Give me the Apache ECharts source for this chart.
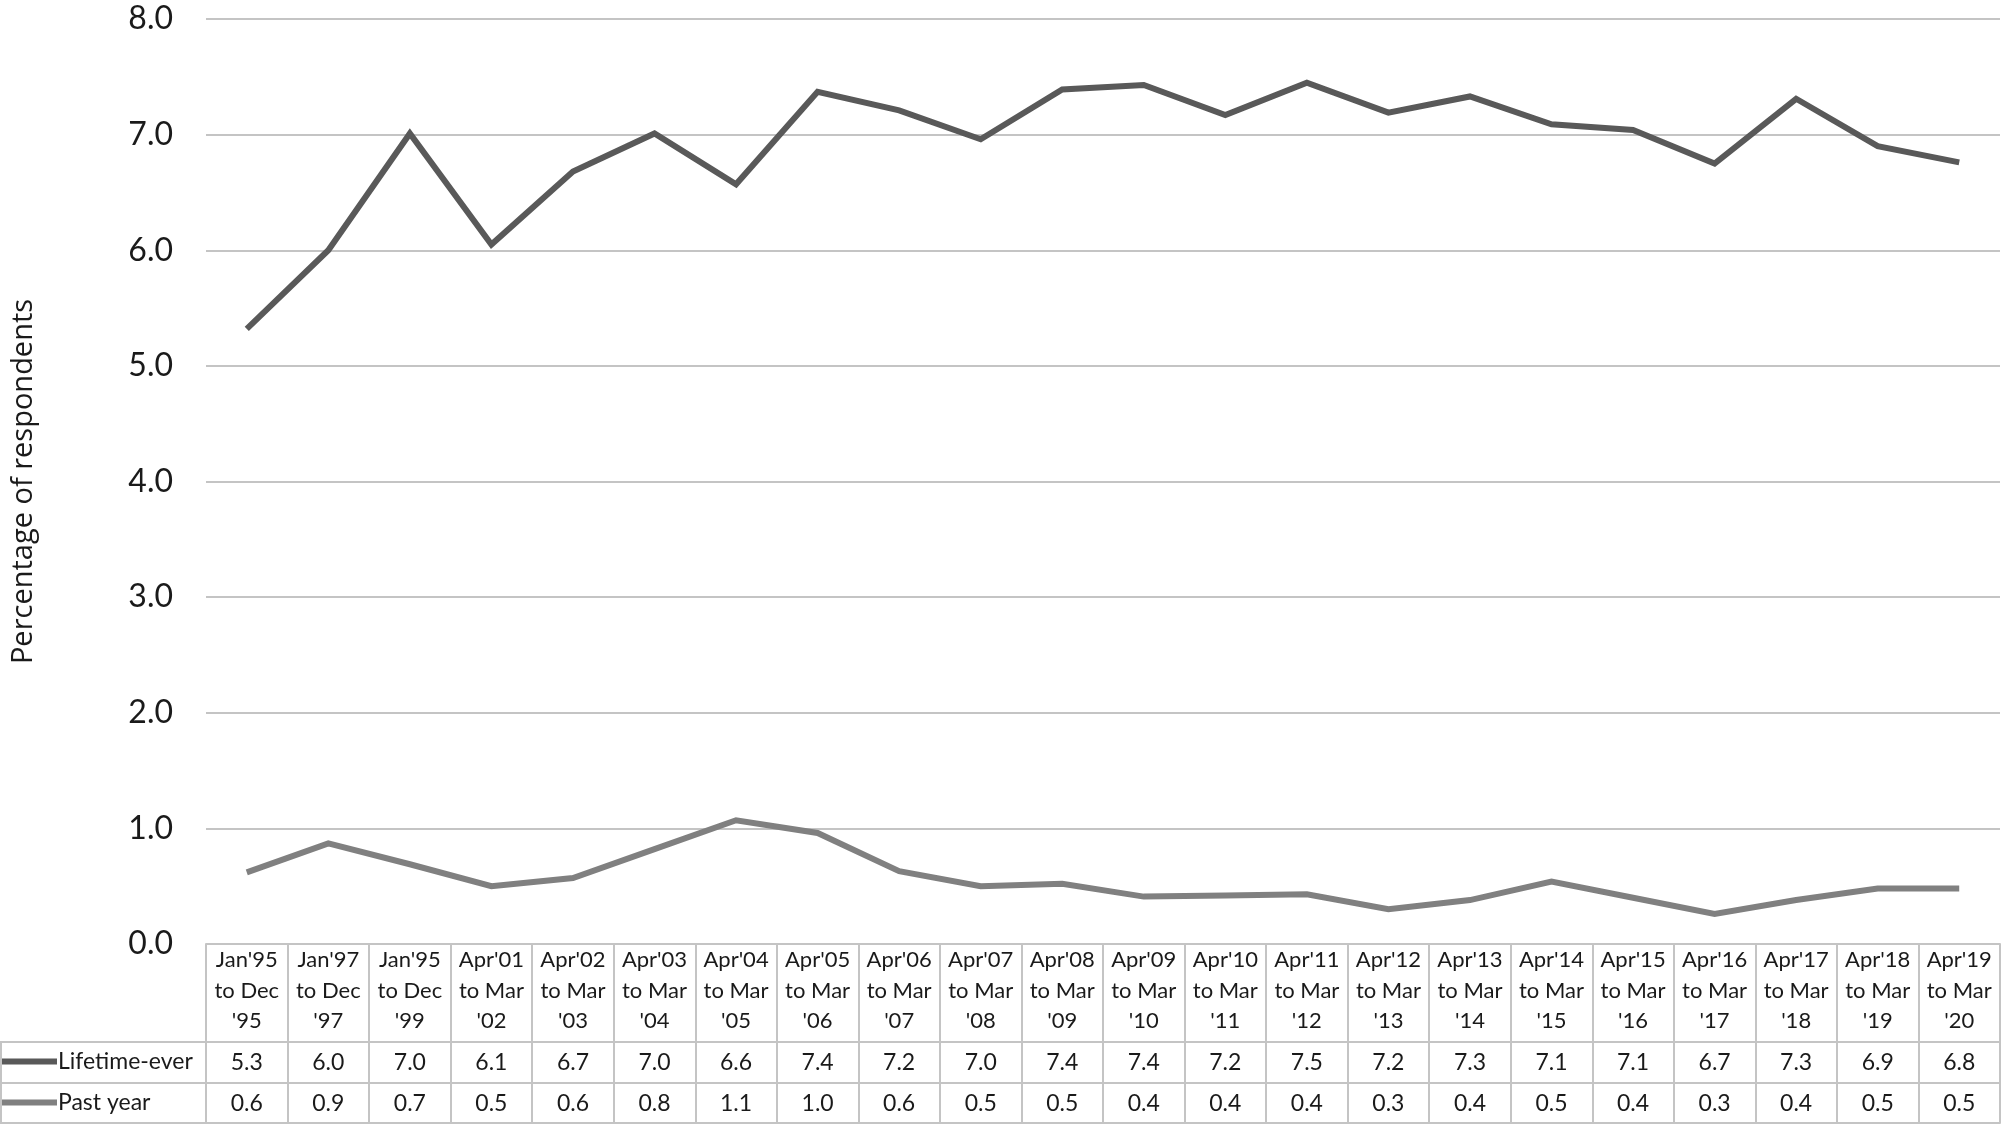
<!DOCTYPE html>
<html>
<head>
<meta charset="utf-8">
<script src="https://cdn.jsdelivr.net/npm/echarts@6/dist/echarts.min.js"></script>
<style>
  html, body { margin: 0; padding: 0; background: #ffffff; }
  #chart { width: 2002px; height: 1125px; }
</style>
</head>
<body>
<div id="chart"></div>
<script>
// ---- Data ----
const categories = [
  "Jan'95\nto Dec\n'95", "Jan'97\nto Dec\n'97", "Jan'95\nto Dec\n'99",
  "Apr'01\nto Mar\n'02", "Apr'02\nto Mar\n'03", "Apr'03\nto Mar\n'04",
  "Apr'04\nto Mar\n'05", "Apr'05\nto Mar\n'06", "Apr'06\nto Mar\n'07",
  "Apr'07\nto Mar\n'08", "Apr'08\nto Mar\n'09", "Apr'09\nto Mar\n'10",
  "Apr'10\nto Mar\n'11", "Apr'11\nto Mar\n'12", "Apr'12\nto Mar\n'13",
  "Apr'13\nto Mar\n'14", "Apr'14\nto Mar\n'15", "Apr'15\nto Mar\n'16",
  "Apr'16\nto Mar\n'17", "Apr'17\nto Mar\n'18", "Apr'18\nto Mar\n'19",
  "Apr'19\nto Mar\n'20"
];
const seriesNames = ["Lifetime-ever", "Past year"];
// plotted values
const lifetimeEver = [5.32, 6.00, 7.01, 6.05, 6.68, 7.01, 6.57, 7.37, 7.21, 6.96, 7.39,
                      7.43, 7.17, 7.45, 7.19, 7.33, 7.09, 7.04, 6.75, 7.31, 6.90, 6.76];
const pastYear = [0.62, 0.87, 0.69, 0.50, 0.57, 0.82, 1.07, 0.96, 0.63, 0.50, 0.52,
                  0.41, 0.42, 0.43, 0.30, 0.38, 0.54, 0.40, 0.26, 0.38, 0.48, 0.48];
// data-table values (as printed)
const lifetimeTable = ["5.3","6.0","7.0","6.1","6.7","7.0","6.6","7.4","7.2","7.0","7.4",
                       "7.4","7.2","7.5","7.2","7.3","7.1","7.1","6.7","7.3","6.9","6.8"];
const pastTable = ["0.6","0.9","0.7","0.5","0.6","0.8","1.1","1.0","0.6","0.5","0.5",
                   "0.4","0.4","0.4","0.3","0.4","0.5","0.4","0.3","0.4","0.5","0.5"];
const yTicks = { min: 0, max: 8, interval: 1 };
const yTitle = "Percentage of respondents";

// ---- Layout / style ----
const W = 2002, H = 1125;
const GL = 206, GR = 2, GT = 19, GB = 181;
const AXIS_Y = H - GB;          // 944
const HEAD_H = 98, ROW1_H = 41, ROW2_H = 40;
const BORDER = '#c4c4c4';
const TXT = '#1a1a1a';
const FONT = 'Lato';
const colors = ['#595959', '#808080'];

const chart = echarts.init(document.getElementById('chart'), null, { renderer: 'canvas' });

function tableAxis(offset, tickLen, formatter, extra) {
  return Object.assign({
    type: 'category',
    data: categories,
    position: 'bottom',
    offset: offset,
    boundaryGap: true,
    axisLine: { show: true, lineStyle: { color: BORDER, width: 2 } },
    axisTick: { show: true, length: tickLen, inside: false, alignWithLabel: false, interval: 0,
                lineStyle: { color: BORDER, width: 2 } },
    axisLabel: { show: true, interval: 0, formatter: formatter, margin: 0, hideOverlap: false,
                 fontFamily: FONT, fontSize: 23, color: TXT, lineHeight: 41 },
    splitLine: { show: false }
  }, extra || {});
}

const option = {
  backgroundColor: '#ffffff',
  animation: false,
  grid: { left: GL, right: GR, top: GT, bottom: GB, containLabel: false, outerBoundsMode: 'none' },
  legend: [
    { data: [seriesNames[0]], left: 2, top: AXIS_Y + HEAD_H + 8, padding: 0, icon: 'rect',
      itemWidth: 55, itemHeight: 6, selectedMode: false,
      textStyle: { fontFamily: FONT, fontSize: 23, color: TXT, padding: [0, 0, 0, -4] } },
    { data: [seriesNames[1]], left: 2, top: AXIS_Y + HEAD_H + ROW1_H + 8, padding: 0, icon: 'rect',
      itemWidth: 55, itemHeight: 6, selectedMode: false,
      textStyle: { fontFamily: FONT, fontSize: 23, color: TXT, padding: [0, 0, 0, -4] } }
  ],
  xAxis: [
    tableAxis(0, HEAD_H, function (v) { return v; },
      { axisLabel: { show: true, interval: 0, margin: 1, hideOverlap: false,
                     fontFamily: FONT, fontSize: 22, color: TXT, lineHeight: 30.5, align: 'center' } }),
    tableAxis(HEAD_H, ROW1_H, function (v, i) { return lifetimeTable[i]; }),
    tableAxis(HEAD_H + ROW1_H, ROW2_H, function (v, i) { return pastTable[i]; }),
    tableAxis(HEAD_H + ROW1_H + ROW2_H, 0, function () { return ''; },
      { axisTick: { show: false }, axisLabel: { show: false } })
  ],
  yAxis: {
    type: 'value',
    min: yTicks.min, max: yTicks.max, interval: yTicks.interval,
    axisLine: { show: false },
    axisTick: { show: false },
    axisLabel: { formatter: function (v) { return v.toFixed(1); }, margin: 33,
                 fontFamily: FONT, fontSize: 32, color: TXT },
    splitLine: { show: true, lineStyle: { color: BORDER, width: 2 } },
    name: yTitle,
    nameLocation: 'middle',
    nameRotate: 90,
    nameGap: 168,
    nameTextStyle: { fontFamily: 'Open Sans', fontSize: 29, color: TXT }
  },
  series: [
    { name: seriesNames[0], type: 'line', data: lifetimeEver, xAxisIndex: 0, yAxisIndex: 0,
      symbol: 'none', lineStyle: { color: colors[0], width: 6, join: 'miter' },
      itemStyle: { color: colors[0] }, z: 3 },
    { name: seriesNames[1], type: 'line', data: pastYear, xAxisIndex: 0, yAxisIndex: 0,
      symbol: 'none', lineStyle: { color: colors[1], width: 6, join: 'miter' },
      itemStyle: { color: colors[1] }, z: 3 }
  ],
  graphic: [
    // left stub of the data-table row borders (legend column)
    { type: 'line', shape: { x1: 0, y1: AXIS_Y + HEAD_H, x2: GL, y2: AXIS_Y + HEAD_H },
      style: { stroke: BORDER, lineWidth: 2 }, silent: true },
    { type: 'line', shape: { x1: 0, y1: AXIS_Y + HEAD_H + ROW1_H, x2: GL, y2: AXIS_Y + HEAD_H + ROW1_H },
      style: { stroke: BORDER, lineWidth: 2 }, silent: true },
    { type: 'line', shape: { x1: 0, y1: AXIS_Y + HEAD_H + ROW1_H + ROW2_H, x2: GL, y2: AXIS_Y + HEAD_H + ROW1_H + ROW2_H },
      style: { stroke: BORDER, lineWidth: 2 }, silent: true },
    { type: 'line', shape: { x1: 1, y1: AXIS_Y + HEAD_H, x2: 1, y2: AXIS_Y + HEAD_H + ROW1_H + ROW2_H },
      style: { stroke: BORDER, lineWidth: 2 }, silent: true }
  ]
};
chart.setOption(option);
</script>
</body>
</html>
